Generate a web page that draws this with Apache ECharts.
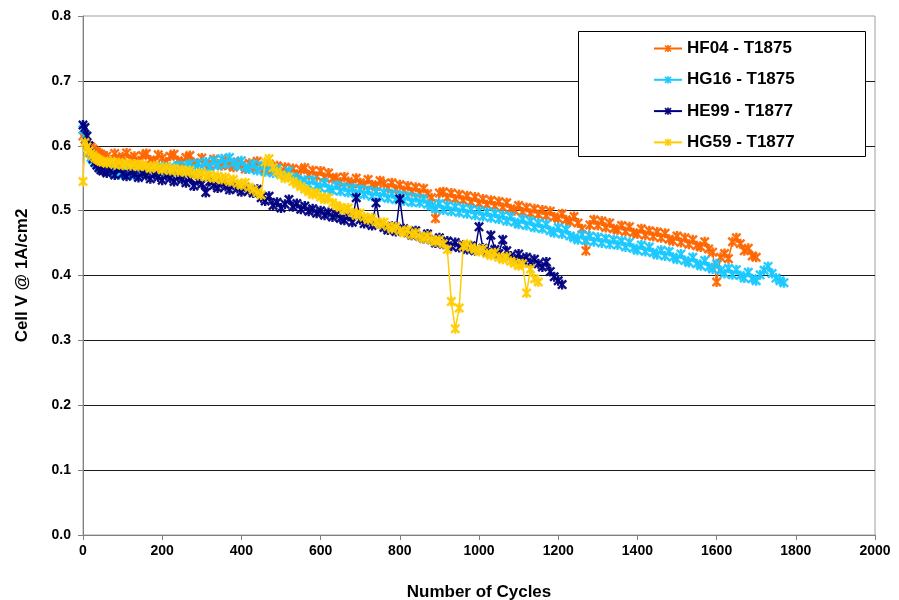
<!DOCTYPE html>
<html><head><meta charset="utf-8">
<script src="https://cdn.jsdelivr.net/npm/echarts@6/dist/echarts.min.js"></script>
<style>html,body{margin:0;padding:0;background:#fff}#c{width:899px;height:600px}</style>
</head><body><div id="c"></div>
<script>
const cycles = [0,5,10,15,20,25,30,35,40,45,50,
60,70,80,90,100,110,120,130,140,150,160,170,180,190,200,210,220,230,240,250,
260,270,280,290,300,310,320,330,340,350,360,370,380,390,400,410,420,430,440,450,
460,470,480,490,500,510,520,530,540,550,560,570,580,590,600,610,620,630,640,650,
660,670,680,690,700,710,720,730,740,750,760,770,780,790,800,810,820,830,840,850,
860,870,880,890,900,910,920,930,940,950,960,970,980,990,1000,1010,1020,1030,1040,1050,
1060,1070,1080,1090,1100,1110,1120,1130,1140,1150,1160,1170,1180,1190,1200,1210,1220,1230,1240,1250,
1260,1270,1280,1290,1300,1310,1320,1330,1340,1350,1360,1370,1380,1390,1400,1410,1420,1430,1440,1450,
1460,1470,1480,1490,1500,1510,1520,1530,1540,1550,1560,1570,1580,1590,1600,1610,1620,1630,1640,1650,
1660,1670,1680,1690,1700,1710,1720,1730,1740,1750,1760,1770];

const hf04 = [0.615,0.61,0.605,0.60,0.598,0.595,0.592,0.59,0.588,0.587,0.585,
0.584,0.578,0.588,0.58,0.583,0.589,0.579,0.584,0.577,0.585,
0.588,0.578,0.576,0.586,0.581,0.575,0.584,0.587,0.577,0.574,
0.582,0.585,0.574,0.572,0.581,0.573,0.57,0.579,0.572,0.569,
0.577,0.57,0.567,0.575,0.57,0.564,0.573,0.566,0.576,0.567,
0.564,0.572,0.562,0.569,0.56,0.567,0.558,0.565,0.556,0.563,
0.566,0.555,0.562,0.553,0.561,0.551,0.558,0.549,0.551,0.544,
0.552,0.545,0.541,0.55,0.543,0.539,0.548,0.54,0.537,0.546,
0.542,0.535,0.543,0.533,0.54,0.531,0.538,0.529,0.536,0.527,
0.534,0.526,0.52,0.488,0.527,0.529,0.52,0.527,0.518,0.525,
0.516,0.523,0.513,0.521,0.511,0.518,0.509,0.516,0.507,0.514,
0.505,0.512,0.503,0.5,0.508,0.498,0.505,0.496,0.503,0.494,
0.501,0.492,0.499,0.49,0.488,0.495,0.486,0.483,0.491,0.481,
0.472,0.438,0.478,0.486,0.477,0.484,0.474,0.481,0.472,0.47,
0.477,0.468,0.475,0.466,0.464,0.472,0.462,0.469,0.46,0.467,
0.458,0.465,0.456,0.453,0.461,0.451,0.458,0.448,0.455,0.446,
0.444,0.452,0.441,0.436,0.39,0.428,0.434,0.426,0.452,0.458,
0.449,0.438,0.442,0.43,0.428];

const hg16 = [0.625,0.615,0.60,0.59,0.582,0.578,0.575,0.572,0.57,0.568,0.566,
0.56,0.568,0.558,0.555,0.565,0.557,0.563,0.554,0.564,0.556,
0.562,0.566,0.556,0.564,0.568,0.559,0.567,0.561,0.57,0.562,
0.569,0.572,0.564,0.573,0.566,0.575,0.567,0.577,0.57,0.58,
0.572,0.582,0.574,0.569,0.577,0.567,0.564,0.572,0.562,0.569,
0.56,0.567,0.558,0.565,0.556,0.554,0.561,0.552,0.549,0.545,
0.547,0.54,0.547,0.538,0.535,0.543,0.534,0.531,0.539,0.53,
0.536,0.528,0.535,0.526,0.533,0.525,0.531,0.522,0.529,0.521,
0.528,0.519,0.526,0.517,0.524,0.515,0.522,0.513,0.52,0.512,
0.518,0.51,0.507,0.503,0.511,0.501,0.508,0.499,0.506,0.497,
0.504,0.495,0.502,0.493,0.5,0.491,0.498,0.489,0.496,0.487,
0.493,0.484,0.491,0.482,0.479,0.487,0.477,0.484,0.474,0.481,
0.472,0.479,0.469,0.466,0.474,0.464,0.471,0.461,0.458,0.455,
0.463,0.454,0.461,0.452,0.459,0.45,0.457,0.448,0.455,0.447,
0.453,0.444,0.451,0.442,0.439,0.447,0.437,0.444,0.435,0.432,
0.439,0.43,0.437,0.428,0.425,0.433,0.423,0.42,0.428,0.418,
0.415,0.423,0.413,0.41,0.418,0.408,0.403,0.411,0.401,0.409,
0.4,0.396,0.405,0.395,0.392,0.401,0.408,0.414,0.403,0.396,
0.392,0.389];

const he99 = [0.632,0.628,0.615,0.6,0.588,0.58,0.574,0.57,0.566,0.563,0.561,
0.558,0.562,0.555,0.566,0.557,0.553,0.56,0.556,0.551,0.558,
0.554,0.549,0.556,0.552,0.547,0.554,0.55,0.545,0.552,0.548,
0.543,0.55,0.538,0.546,0.541,0.528,0.545,0.539,0.535,0.542,
0.537,0.532,0.539,0.534,0.529,0.536,0.531,0.527,0.533,0.52,
0.515,0.522,0.508,0.513,0.504,0.51,0.517,0.506,0.511,0.502,
0.507,0.499,0.503,0.496,0.5,0.493,0.497,0.49,0.494,0.488,
0.485,0.491,0.482,0.52,0.486,0.48,0.484,0.477,0.512,0.479,
0.474,0.47,0.476,0.468,0.518,0.472,0.466,0.462,0.469,0.46,
0.457,0.464,0.455,0.45,0.458,0.448,0.453,0.445,0.451,0.443,
0.447,0.44,0.446,0.438,0.475,0.442,0.436,0.462,0.44,0.434,
0.455,0.438,0.43,0.426,0.433,0.424,0.428,0.42,0.425,0.418,
0.413,0.421,0.406,0.398,0.392,0.386];

const hg59 = [0.545,0.605,0.598,0.592,0.588,0.585,0.582,0.58,0.578,0.576,0.575,
0.573,0.576,0.571,0.574,0.57,0.573,0.569,0.572,0.568,0.571,
0.568,0.565,0.569,0.566,0.563,0.567,0.562,0.565,0.56,0.563,
0.559,0.562,0.557,0.554,0.558,0.552,0.555,0.55,0.553,0.548,
0.551,0.545,0.548,0.542,0.539,0.543,0.536,0.532,0.528,0.524,
0.575,0.58,0.566,0.56,0.555,0.55,0.552,0.545,0.541,0.537,
0.533,0.529,0.525,0.527,0.521,0.517,0.52,0.512,0.508,0.505,
0.501,0.504,0.497,0.493,0.496,0.49,0.486,0.489,0.483,0.479,
0.482,0.476,0.472,0.475,0.469,0.466,0.47,0.463,0.466,0.46,
0.457,0.461,0.455,0.452,0.455,0.449,0.44,0.36,0.318,0.35,
0.445,0.448,0.443,0.44,0.437,0.441,0.434,0.431,0.435,0.428,
0.425,0.429,0.422,0.419,0.415,0.418,0.373,0.41,0.395,0.39];

const seriesNames = ['HF04 - T1875','HG16 - T1875','HE99 - T1877','HG59 - T1877'];
const seriesValues = [hf04, hg16, he99, hg59];
const seriesColors = ['#FF6600','#19C8FF','#000080','#FFCC00'];
const yTicks = [0,0.1,0.2,0.3,0.4,0.5,0.6,0.7,0.8];
const xTicks = [0,200,400,600,800,1000,1200,1400,1600,1800,2000];

const star = 'path://M3.8 0L6.2 0L6.2 10L3.8 10Z M0 1.7L1.7 0L10 8.3L8.3 10Z M8.3 0L10 1.7L1.7 10L0 8.3Z';
const FONT = '"Liberation Sans", Arial, sans-serif';

const chart = echarts.init(document.getElementById('c'), null, {renderer:'canvas'});
chart.setOption({
  animation:false,
  backgroundColor:'#fff',
  grid:{left:83,right:24,top:16,bottom:65,show:true,borderColor:'#a0a0a0',borderWidth:1,
    containLabel:false,outerBoundsMode:'none'},
  xAxis:{type:'value',min:0,max:2000,interval:200,
    name:'Number of Cycles',nameLocation:'middle',nameGap:49,
    nameTextStyle:{fontFamily:FONT,fontWeight:'bold',fontSize:17,color:'#000'},
    axisLine:{onZero:false,lineStyle:{color:'#808080',width:1}},
    axisTick:{show:true,length:5,lineStyle:{color:'#808080'}},
    splitLine:{show:false},
    axisLabel:{fontFamily:FONT,fontWeight:'bold',fontSize:14,color:'#000',margin:9,
      formatter:v=>xTicks.includes(v)?String(v):''}},
  yAxis:{type:'value',min:0,max:0.8,interval:0.1,
    name:'Cell V @ 1A/cm2',nameLocation:'middle',nameGap:52,nameRotate:90,
    nameTextStyle:{fontFamily:FONT,fontWeight:'bold',fontSize:17,color:'#000'},
    axisLine:{show:true,lineStyle:{color:'#808080',width:1}},
    axisTick:{show:true,length:5,lineStyle:{color:'#808080'}},
    splitLine:{show:true,showMaxLine:false,lineStyle:{color:'#1a1a1a',width:1}},
    axisLabel:{fontFamily:FONT,fontWeight:'bold',fontSize:14,color:'#000',margin:12,
      formatter:v=>{const t=yTicks.find(a=>Math.abs(a-v)<1e-9);return t===undefined?'':t.toFixed(1);}}},
  legend:{orient:'vertical',left:653,top:40,itemWidth:28,itemHeight:9,itemGap:14.3,padding:0,z:20,
    textStyle:{fontFamily:FONT,fontWeight:'bold',fontSize:17,color:'#000'},
    data:seriesNames},
  graphic:[{type:'rect',z:15,shape:{x:578.5,y:31.5,width:287,height:125},
    style:{fill:'#fff',stroke:'#000',lineWidth:1}}],
  series:seriesNames.map((n,k)=>({
    name:n,type:'line',
    data:seriesValues[k].map((v,i)=>[cycles[i],v]),
    symbol:star,symbolSize:10,showAllSymbol:true,
    itemStyle:{color:seriesColors[k],opacity:0.95},
    lineStyle:{color:seriesColors[k],width:1.5},
    emphasis:{disabled:true},
    z:2+k
  }))
});
</script></body></html>
